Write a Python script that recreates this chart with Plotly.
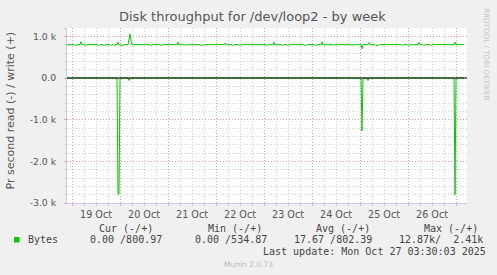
import plotly.graph_objects as go

# ---- data ----
write_time = [
    "2025-10-18 21:30", "2025-10-19 01:30", "2025-10-19 02:00", "2025-10-19 02:30",
    "2025-10-19 04:00", "2025-10-19 04:30", "2025-10-19 05:00",
    "2025-10-19 06:30", "2025-10-19 07:00", "2025-10-19 07:30",
    "2025-10-19 13:00", "2025-10-19 13:30", "2025-10-19 14:00",
    "2025-10-19 15:30", "2025-10-19 16:00", "2025-10-19 16:30",
    "2025-10-19 19:00", "2025-10-19 19:30", "2025-10-19 20:00",
    "2025-10-19 20:30", "2025-10-19 21:00", "2025-10-19 21:30",
    "2025-10-19 22:30", "2025-10-19 23:00", "2025-10-19 23:30",
    "2025-10-20 00:30", "2025-10-20 01:00", "2025-10-20 01:30", "2025-10-20 02:00",
    "2025-10-20 04:00", "2025-10-20 04:30", "2025-10-20 05:00", "2025-10-20 05:30", "2025-10-20 06:00",
    "2025-10-20 15:00", "2025-10-20 15:30", "2025-10-20 16:00",
    "2025-10-20 20:00", "2025-10-20 20:30", "2025-10-20 21:00",
    "2025-10-21 04:30", "2025-10-21 05:00", "2025-10-21 05:30",
    "2025-10-21 08:30", "2025-10-21 09:00", "2025-10-21 09:30",
    "2025-10-21 16:00", "2025-10-21 16:30", "2025-10-21 17:00",
    "2025-10-21 17:30", "2025-10-21 18:00", "2025-10-21 18:30",
    "2025-10-22 04:00", "2025-10-22 04:30", "2025-10-22 05:00",
    "2025-10-22 08:00", "2025-10-22 08:30", "2025-10-22 09:00",
    "2025-10-22 11:30", "2025-10-22 12:00", "2025-10-22 12:30",
    "2025-10-23 01:00", "2025-10-23 01:30", "2025-10-23 02:00",
    "2025-10-23 04:30", "2025-10-23 05:00", "2025-10-23 05:30",
    "2025-10-23 08:30", "2025-10-23 09:00", "2025-10-23 09:30",
    "2025-10-23 11:30", "2025-10-23 12:00", "2025-10-23 12:30",
    "2025-10-23 20:00", "2025-10-23 20:30", "2025-10-23 21:00", "2025-10-23 21:30",
    "2025-10-24 01:30", "2025-10-24 02:00", "2025-10-24 02:30",
    "2025-10-24 04:30", "2025-10-24 05:00", "2025-10-24 05:30",
    "2025-10-24 10:30", "2025-10-24 11:00", "2025-10-24 11:30",
    "2025-10-24 19:30", "2025-10-24 20:00", "2025-10-24 20:30",
    "2025-10-25 00:30", "2025-10-25 01:00", "2025-10-25 01:30",
    "2025-10-25 04:00", "2025-10-25 04:30", "2025-10-25 05:00",
    "2025-10-25 07:30", "2025-10-25 08:00", "2025-10-25 08:30", "2025-10-25 09:00", "2025-10-25 09:30",
    "2025-10-25 20:30", "2025-10-25 21:00", "2025-10-25 21:30",
    "2025-10-26 00:00", "2025-10-26 00:30", "2025-10-26 01:00",
    "2025-10-26 05:00", "2025-10-26 05:30", "2025-10-26 06:00",
    "2025-10-26 07:30", "2025-10-26 08:00", "2025-10-26 08:30",
    "2025-10-26 11:00", "2025-10-26 11:30", "2025-10-26 12:00",
    "2025-10-26 23:00", "2025-10-26 23:30", "2025-10-27 00:00",
    "2025-10-27 04:00",
]
write_bytes = [
    800, 800, 775, 800,
    800, 870, 800,
    800, 775, 800,
    800, 775, 800,
    800, 775, 800,
    800, 775, 800,
    800, 775, 800,
    800, 860, 800,
    790, 775, 780, 800,
    800, 930, 1060, 880, 800,
    800, 775, 800,
    800, 775, 800,
    800, 860, 800,
    800, 775, 800,
    800, 775, 800,
    800, 775, 800,
    800, 840, 800,
    800, 775, 800,
    800, 775, 800,
    800, 775, 800,
    800, 860, 800,
    800, 775, 800,
    800, 775, 800,
    800, 775, 775, 800,
    800, 775, 800,
    800, 870, 800,
    800, 775, 800,
    800, 775, 800,
    800, 700, 800,
    800, 850, 800,
    800, 775, 790, 775, 800,
    800, 775, 800,
    800, 775, 800,
    800, 860, 800,
    800, 775, 800,
    800, 775, 800,
    800, 860, 800,
    800,
]

read_time = [
    "2025-10-18 21:30",
    "2025-10-19 22:30", "2025-10-19 23:00", "2025-10-19 23:30", "2025-10-20 00:00",
    "2025-10-20 04:00", "2025-10-20 04:30", "2025-10-20 05:00",
    "2025-10-25 00:30", "2025-10-25 01:00", "2025-10-25 01:30",
    "2025-10-25 03:30", "2025-10-25 04:00", "2025-10-25 04:30",
    "2025-10-26 23:00", "2025-10-26 23:30", "2025-10-27 00:00",
    "2025-10-27 04:00",
]
read_bytes = [
    0,
    0, 2800, 2780, 0,
    0, 60, 0,
    0, 1270, 0,
    0, 60, 0,
    0, 2800, 0,
    0,
]

y_tickvals = [-3000, -2000, -1000, 0, 1000]
y_ticktext = ["-3.0 k", "-2.0 k", "-1.0 k", "0.0", "1.0 k"]

legend_headers = ["Cur (-/+)", "Min (-/+)", "Avg (-/+)", "Max (-/+)"]
legend_values = ["0.00 /800.97", "0.00 /534.87", "17.67 /802.39", "12.87k/\u00a0\u00a02.41k"]
series_name = "Bytes"
last_update = "Last update: Mon Oct 27 03:30:03 2025"

# ---- layout geometry (pixels) ----
W, H = 497, 275
PL, PR, PT, PB = 67, 467, 28, 203
PW, PH = PR - PL, PB - PT

def px(x):
    return (x - PL) / PW

def py(y):
    return (PB - y) / PH

GREEN = "#00CC00"
TXT = "#555555"
MGRID = "#EE9999"
GRID = "#D0D0D0"
AXIS = "#C8C8F0"
DOT = "1px,2px"

fig = go.Figure()
fig.add_trace(go.Scatter(
    x=read_time, y=[-v for v in read_bytes], mode="lines",
    line=dict(color=GREEN, width=1), showlegend=False, hoverinfo="skip"))
fig.add_trace(go.Scatter(
    x=write_time, y=write_bytes, mode="lines",
    line=dict(color=GREEN, width=1), showlegend=False, hoverinfo="skip"))

fig.update_layout(
    width=W, height=H,
    margin=dict(l=PL, r=W - PR, t=PT, b=H - PB, pad=0),
    paper_bgcolor="#F0F0F0",
    plot_bgcolor="#FFFFFF",
    font=dict(family="DejaVu Sans", color=TXT, size=9.3),
    showlegend=False,
)

fig.update_xaxes(
    type="date",
    range=["2025-10-18 21:30", "2025-10-27 05:30"],
    tick0="2025-10-19", dtick=86400000,
    ticklabelmode="period", tickformat="%d %b",
    showgrid=True, gridcolor=MGRID, griddash=DOT, gridwidth=1,
    ticks="outside", ticklen=2, tickcolor=MGRID,
    showline=True, linecolor=AXIS, linewidth=1,
    zeroline=False,
    tickfont=dict(size=9.6, color=TXT),
    minor=dict(dtick=6 * 3600000, showgrid=True, gridcolor=GRID, griddash=DOT,
               ticks="outside", ticklen=2, tickcolor=GRID),
)
fig.update_yaxes(
    range=[-3000, 1200],
    tickvals=y_tickvals, ticktext=y_ticktext,
    showgrid=True, gridcolor=MGRID, griddash=DOT, gridwidth=1,
    ticks="outside", ticklen=2, tickcolor=MGRID,
    ticklabelstandoff=6,
    showline=True, linecolor=AXIS, linewidth=1,
    zeroline=False,
    tickfont=dict(size=9.3, color=TXT),
    minor=dict(dtick=200, showgrid=True, gridcolor=GRID, griddash=DOT,
               ticks="outside", ticklen=2, tickcolor=GRID),
)

# black zero rule on top of the data
fig.add_shape(type="line", xref="paper", x0=0, x1=1, yref="y", y0=0, y1=0,
              line=dict(color="#000000", width=1), layer="above")

ann = []
ann.append(dict(text="Disk throughput for /dev/loop2 - by week",
                x=px(252.5), y=py(17), xanchor="center", yanchor="middle",
                font=dict(size=13, color=TXT)))
ann.append(dict(text="Pr second read (-) / write (+)", textangle=-90,
                x=px(10), y=py(110.5), xanchor="center", yanchor="middle",
                font=dict(size=11, color=TXT)))
ann.append(dict(text="RRDTOOL / TOBI OETIKER", textangle=90,
                x=px(487), y=py(54), xanchor="center", yanchor="middle",
                font=dict(size=7.2, color="#C4C4C4")))

MONO = "DejaVu Sans Mono"
hdr_x = [97.7, 206.7, 315, 422.7]
val_x = [89.3, 194.3, 293.3, 398.3]
for t, x in zip(legend_headers, hdr_x):
    ann.append(dict(text=t, x=px(x - 1), y=py(228), xanchor="left", yanchor="middle",
                    font=dict(family=MONO, size=10, color="#444444")))
for t, x in zip(legend_values, val_x):
    ann.append(dict(text=t, x=px(x - 1), y=py(239.5), xanchor="left", yanchor="middle",
                    font=dict(family=MONO, size=10, color="#444444")))
ann.append(dict(text=series_name, x=px(26), y=py(239.5), xanchor="left", yanchor="middle",
                font=dict(family=MONO, size=10, color="#444444")))
ann.append(dict(text=last_update, x=px(260.7), y=py(251), xanchor="left", yanchor="middle",
                font=dict(family=MONO, size=10, color="#444444")))
ann.append(dict(text="Munin 2.0.73", x=px(248), y=py(264), xanchor="center", yanchor="middle",
                font=dict(size=7.5, color="#BBBBBB")))
for a in ann:
    a.update(xref="paper", yref="paper", showarrow=False)
fig.update_layout(annotations=ann)

# legend swatch
fig.add_shape(type="rect", xref="paper", yref="paper",
              x0=px(14), x1=px(19.5), y0=py(242.5), y1=py(237),
              fillcolor=GREEN, line=dict(width=0), layer="above")

fig.write_html("out.html")
